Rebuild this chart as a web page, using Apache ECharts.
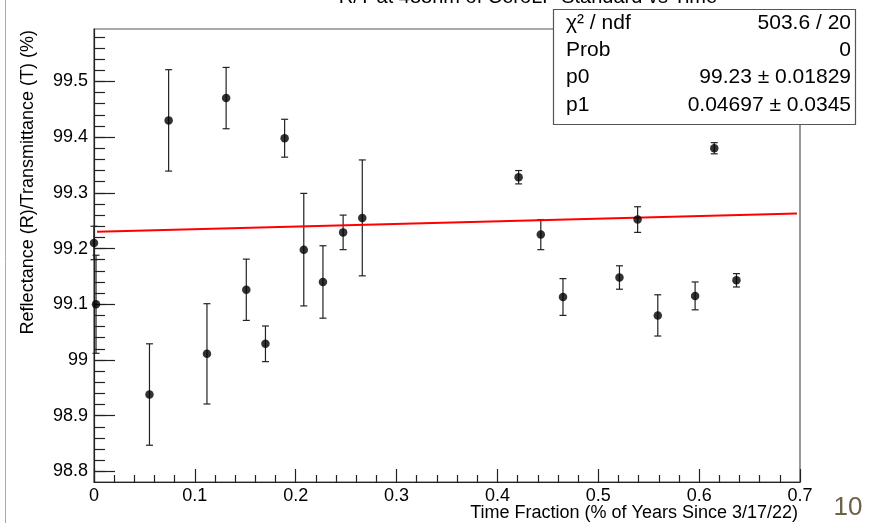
<!DOCTYPE html>
<html>
<head>
<meta charset="utf-8">
<script src="https://cdn.jsdelivr.net/npm/echarts@6/dist/echarts.min.js"></script>
<style>
html,body{margin:0;padding:0;background:#fff;}
#chart{width:871px;height:523px;}
</style>
</head>
<body>
<div id="chart"></div>
<script>
// ---- data ----
var xVals = [0.000, 0.002, 0.055, 0.074, 0.112, 0.131, 0.151, 0.170, 0.189, 0.208, 0.227, 0.247, 0.266, 0.421, 0.443, 0.465, 0.521, 0.539, 0.559, 0.596, 0.615, 0.637];
var yVals = [99.21, 99.10, 98.938, 99.430, 99.011, 99.470, 99.126, 99.029, 99.398, 99.198, 99.140, 99.229, 99.255, 99.328, 99.225, 99.113, 99.148, 99.252, 99.080, 99.115, 99.380, 99.143];
var yErrs = [0.030, 0.088, 0.091, 0.091, 0.090, 0.055, 0.055, 0.032, 0.034, 0.101, 0.065, 0.031, 0.104, 0.012, 0.027, 0.033, 0.021, 0.023, 0.037, 0.025, 0.010, 0.012];
var fitP0 = 99.23;
var fitP1 = 0.04697;
var fitRange = [0.003, 0.697];
var yTickLabels = [98.8, 98.9, 99.0, 99.1, 99.2, 99.3, 99.4, 99.5];
var xTickLabels = [0, 0.1, 0.2, 0.3, 0.4, 0.5, 0.6, 0.7];
var statsRows = [
  ['\u03C7\u00B2 / ndf', '503.6 / 20'],
  ['Prob', '0'],
  ['p0', '99.23 \u00B1 0.01829'],
  ['p1', '0.04697 \u00B1 0.0345']
];
var titleText = 'R/T at 488nm of CeroLP Standard vs Time';
var xTitle = 'Time Fraction (% of Years Since 3/17/22)';
var yTitle = 'Reflectance (R)/Transmittance (T) (%)';
var pageNum = '10';

var yMin = 98.781, yMax = 99.594;
var yMinor = [];
for (var v = 98.80; v < yMax - 1e-9; v += 0.02) yMinor.push(+v.toFixed(2));

var FONT = 'Liberation Sans, Arial, Helvetica, sans-serif';
var pts = xVals.map(function (x, i) { return [x, yVals[i]]; });
var errData = xVals.map(function (x, i) { return [x, yVals[i] - yErrs[i], yVals[i] + yErrs[i]]; });
var fitData = fitRange.map(function (x) { return [x, fitP0 + fitP1 * x]; });

var chart = echarts.init(document.getElementById('chart'), null, {renderer: 'canvas'});

var statsGraphics = [{
  type: 'rect', shape: {x: 553.5, y: 9.5, width: 302, height: 115},
  style: {fill: '#fff', stroke: '#555', lineWidth: 1.2}, z: 100
}];
statsRows.forEach(function (r, i) {
  var yc = 23 + i * 27.3;
  statsGraphics.push({type: 'text', x: 566, y: yc, z: 101,
    style: {text: r[0], font: '21px ' + FONT, fill: '#000', align: 'left', verticalAlign: 'middle'}});
  statsGraphics.push({type: 'text', x: 851, y: yc, z: 101,
    style: {text: r[1], font: '21px ' + FONT, fill: '#000', align: 'right', verticalAlign: 'middle'}});
});

chart.setOption({
  animation: false,
  backgroundColor: '#fff',
  grid: {left: 94, right: 71, top: 29, bottom: 41, show: true, borderColor: '#555', borderWidth: 1.2, backgroundColor: 'transparent'},
  xAxis: {
    type: 'value', min: 0, max: 0.7, interval: 0.1,
    axisLine: {show: true, onZero: false, lineStyle: {color: '#222', width: 1.2}},
    axisTick: {show: true, inside: true, length: 13, lineStyle: {color: '#222', width: 1.2}},
    minorTick: {show: true, splitNumber: 5, length: 7, lineStyle: {color: '#222', width: 1.2}},
    axisLabel: {show: true, margin: 5, fontSize: 18, fontFamily: FONT, color: '#000',
      customValues: xTickLabels,
      formatter: function (v) { return String(+v.toFixed(1)); }},
    splitLine: {show: false}, minorSplitLine: {show: false}
  },
  yAxis: [{
    type: 'value', min: yMin, max: yMax,
    axisLine: {show: true, onZero: false, lineStyle: {color: '#222', width: 1.2}},
    axisTick: {show: true, inside: true, length: 21, customValues: yTickLabels, lineStyle: {color: '#222', width: 1.2}},
    axisLabel: {show: true, margin: 6, fontSize: 18, fontFamily: FONT, color: '#000',
      customValues: yTickLabels,
      formatter: function (v) { return String(+v.toFixed(1)); }},
    splitLine: {show: false}
  }, {
    type: 'value', min: yMin, max: yMax, position: 'left', offset: 0,
    axisLine: {show: false},
    axisTick: {show: true, inside: true, length: 11, customValues: yMinor, lineStyle: {color: '#222', width: 1.2}},
    axisLabel: {show: false},
    splitLine: {show: false}
  }],
  series: [{
    type: 'custom',
    xAxisIndex: 0, yAxisIndex: 0,
    clip: false,
    data: errData,
    renderItem: function (params, api) {
      var x = api.value(0);
      var lo = api.coord([x, api.value(1)]);
      var hi = api.coord([x, api.value(2)]);
      var c = 3.5;
      var st = {stroke: '#222', lineWidth: 1.2};
      return {type: 'group', children: [
        {type: 'line', shape: {x1: lo[0], y1: lo[1], x2: hi[0], y2: hi[1]}, style: st},
        {type: 'line', shape: {x1: lo[0] - c, y1: lo[1], x2: lo[0] + c, y2: lo[1]}, style: st},
        {type: 'line', shape: {x1: hi[0] - c, y1: hi[1], x2: hi[0] + c, y2: hi[1]}, style: st}
      ]};
    },
    z: 3
  }, {
    type: 'line',
    data: fitData,
    showSymbol: false,
    lineStyle: {color: '#ff0000', width: 2},
    z: 4
  }, {
    type: 'scatter',
    data: pts,
    symbol: 'circle',
    symbolSize: 8.5,
    clip: false,
    itemStyle: {color: '#000'},
    z: 5
  }],
  graphic: [
    {type: 'line', shape: {x1: 5.5, y1: 0, x2: 5.5, y2: 523}, style: {stroke: '#aaa', lineWidth: 1}},
    {type: 'text', x: 528, y: -3, style: {text: titleText, font: '20px ' + FONT, fill: '#000', align: 'center', verticalAlign: 'middle'}},
    {type: 'text', x: 798, y: 513, style: {text: xTitle, font: '18px ' + FONT, fill: '#000', align: 'right', verticalAlign: 'middle'}},
    {type: 'text', x: 28, y: 30, rotation: Math.PI / 2, style: {text: yTitle, font: '18px ' + FONT, fill: '#000', align: 'right', verticalAlign: 'middle'}},
    {type: 'text', x: 848, y: 508, style: {text: pageNum, font: '26px ' + FONT, fill: '#6e6148', align: 'center', verticalAlign: 'middle'}}
  ].concat(statsGraphics)
});
</script>
</body>
</html>
